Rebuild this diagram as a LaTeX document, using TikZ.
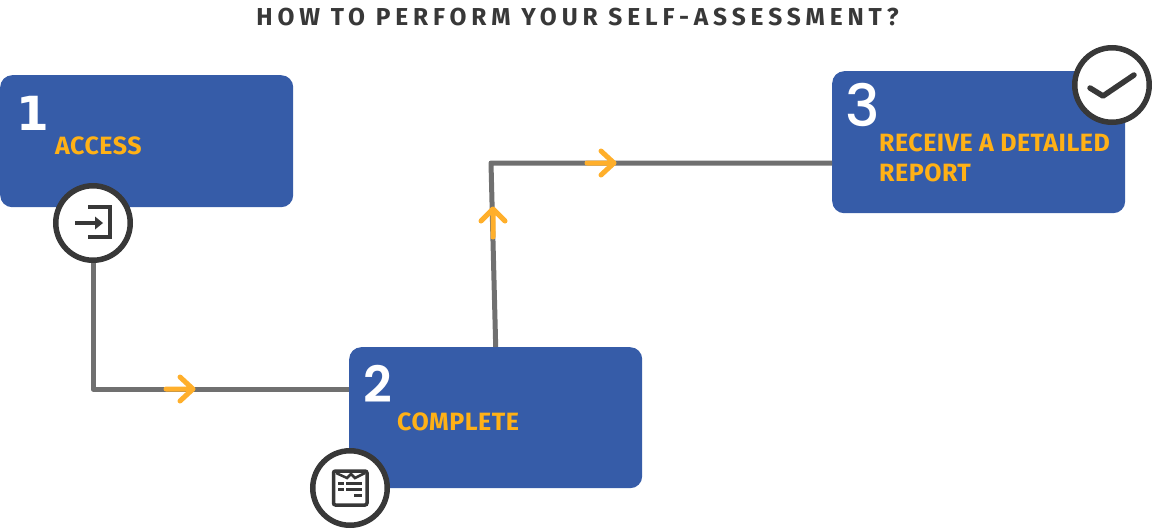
\documentclass[tikz,border=0pt]{standalone}
\usepackage{fontspec}
\setmainfont{Fira Sans}
\newfontfamily\titlefont[LetterSpace=20]{Fira Sans Bold}
\newfontfamily\labelfont[LetterSpace=2]{Fira Sans Bold}
\newfontfamily\numa{DejaVu Sans Bold}
\newfontfamily\numb{Poppins SemiBold}
\newfontfamily\numc{Poppins Medium}
\definecolor{boxblue}{HTML}{365CA8}
\definecolor{amberlabel}{HTML}{FFB116}
\definecolor{chevron}{HTML}{FFAF2B}
\definecolor{linegray}{HTML}{707070}
\definecolor{ringdark}{HTML}{383838}
\tikzset{
  stepbox/.style={fill=boxblue,draw=none,rounded corners=12pt,minimum width=293pt,inner sep=0pt,anchor=north west},
  ring/.style={circle,draw=ringdark,line width=5.5pt,fill=white,minimum size=74.5pt,inner sep=0pt},
  conn/.style={draw=linegray,line width=5pt,line join=round},
  chev/.style={draw=chevron,line width=5pt,line cap=round,line join=round},
  steplabel/.style={anchor=base west,inner sep=0pt,text=amberlabel,font=\labelfont\fontsize{25}{30}\selectfont,align=left},
  stepnum/.style={anchor=base west,inner sep=0pt,text=white},
  icon/.style={draw=ringdark,line width=3.5pt}
}
\begin{document}
\begin{tikzpicture}[x=1pt,y=-1pt]
\useasboundingbox (0,0) rectangle (1152,528);
\node[anchor=base,inner sep=0pt,text=ringdark,font=\titlefont\fontsize{24.5}{28}\selectfont] (title) at (577.5,25) {HOW TO PERFORM YOUR SELF-ASSESSMENT?};
\node[stepbox,minimum height=132pt] (b1) at (0,75) {};
\node[stepbox,minimum height=141pt] (b2) at (349,347) {};
\node[stepbox,minimum height=142pt] (b3) at (832,71) {};
\coordinate (turnA) at (93,389);
\coordinate (turnB) at (491,163);
\node[ring] (c1) at (93,223) {};
\node[ring] (c2) at (350,488) {};
\node[ring] (c3) at (1112,85) {};
\draw[conn] (c1.south) -- (turnA) -- (b2.west |- turnA);
\draw[conn] (b2.north) -- (turnB) -- (b3.west |- turnB);
\draw[chev] (166,389) -- (193,389) (180,377) -- (193,389) -- (180,401);
\draw[chev] (493,237) -- (493,209) (481,221) -- (493,209) -- (505,221);
\draw[chev] (587,163) -- (614,163) (601,151) -- (614,163) -- (601,175);
\node[stepnum,font=\numa\fontsize{47}{50}\selectfont] (n1) at (16,130) {1};
\node[stepnum,font=\numb\fontsize{50}{54}\selectfont] (n2) at (363,402) {2};
\node[stepnum,font=\numc\fontsize{58}{62}\selectfont] (n3) at (845,126) {3};
\node[steplabel] (l1) at (55,154) {ACCESS};
\node[steplabel] (l2) at (397,430) {COMPLETE};
\node[steplabel] (l3) at (879,151) {RECEIVE A DETAILED};
\node[steplabel] (l4) at (879,181) {REPORT};
% icon 1
\draw[icon,line width=4pt] (88,207) -- (110,207) -- (110,237) -- (88,237);
\draw[icon,line width=4pt] (75,223) -- (98,223);
\fill[ringdark] (103,223) -- (95,216.5) -- (95,229.5) -- cycle;
% icon 2
\draw[icon,rounded corners=2pt] (333.5,471) rectangle (367,505);
\draw[draw=ringdark,line width=2.5pt] (336,473) -- (347,478) -- (351,474) -- (355,478) -- (365,473);
\draw[icon] (338,483.7) -- (344,483.7) (346,483.7) -- (362,483.7);
\draw[icon] (338,489.7) -- (344,489.7) (346,489.7) -- (362,489.7);
\draw[icon] (354,495.7) -- (362,495.7);
% icon 3
\draw[icon,line width=5.5pt,line cap=round,line join=round] (1090,88) -- (1103,96) -- (1134,75);
\end{tikzpicture}
\end{document}
